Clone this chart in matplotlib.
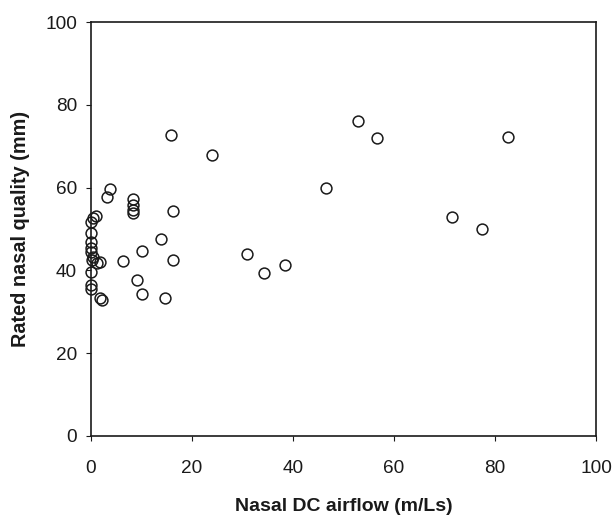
import matplotlib
matplotlib.use("Agg")
import matplotlib.pyplot as plt

plt.rcParams['font.family'] = ['Liberation Sans', 'DejaVu Sans']

airflow = [15.9, 23.9, 52.8, 56.6, 82.5, 46.5, 71.5, 77.5, 30.8, 34.3, 38.5,
           3.7, 3.2, 8.4, 8.4, 8.4, 8.3, 16.2, 13.8, 10.0, 6.4, 16.2, 9.2,
           10.0, 14.7, 1.7, 2.2, 0.9, 0.4, 0.0, 0.0, 0.0, 0.0, 0.0, 0.4, 0.2,
           1.8, 1.2, 0.0, 0.0, 0.0]
quality = [72.6, 67.8, 76.0, 71.9, 72.3, 59.9, 52.8, 50.0, 43.9, 39.3, 41.3,
           59.7, 57.8, 57.2, 55.8, 54.6, 53.9, 54.4, 47.7, 44.8, 42.3, 42.6, 37.7,
           34.3, 33.4, 33.3, 32.9, 53.2, 52.6, 51.8, 49.0, 46.9, 45.3, 44.5, 43.3,
           42.5, 42.1, 41.9, 39.7, 36.5, 35.4]
xticks = [0, 20, 40, 60, 80, 100]
yticks = [0, 20, 40, 60, 80, 100]

fig = plt.figure(figsize=(6.14, 5.18), dpi=100)
ax = fig.add_axes([91/614, 1-436/518, (596-91)/614, (436-22)/518])
ax.plot(airflow, quality, linestyle='none', marker='o', markersize=7.8,
        markerfacecolor='none', markeredgecolor='#1a1a1a', markeredgewidth=1.1,
        clip_on=False)
ax.set_xlim(0, 100)
ax.set_ylim(0, 100)
ax.set_xticks(xticks)
ax.set_yticks(yticks)
ax.tick_params(axis='x', direction='out', length=3.5, width=0.8, pad=14, labelsize=13.7, colors='#1a1a1a')
ax.tick_params(axis='y', direction='out', length=3.5, width=0.8, pad=6.5, labelsize=13.7, colors='#1a1a1a')
for s in ax.spines.values():
    s.set_linewidth(1.2)
    s.set_color('#1a1a1a')
ax.set_xlabel('Nasal DC airflow (m/Ls)', fontsize=14, fontweight='bold', labelpad=15, color='#1a1a1a')
ax.set_ylabel('Rated nasal quality (mm)', fontsize=14.3, fontweight='bold', labelpad=11, color='#1a1a1a')
fig.savefig('out.png', dpi=100)
